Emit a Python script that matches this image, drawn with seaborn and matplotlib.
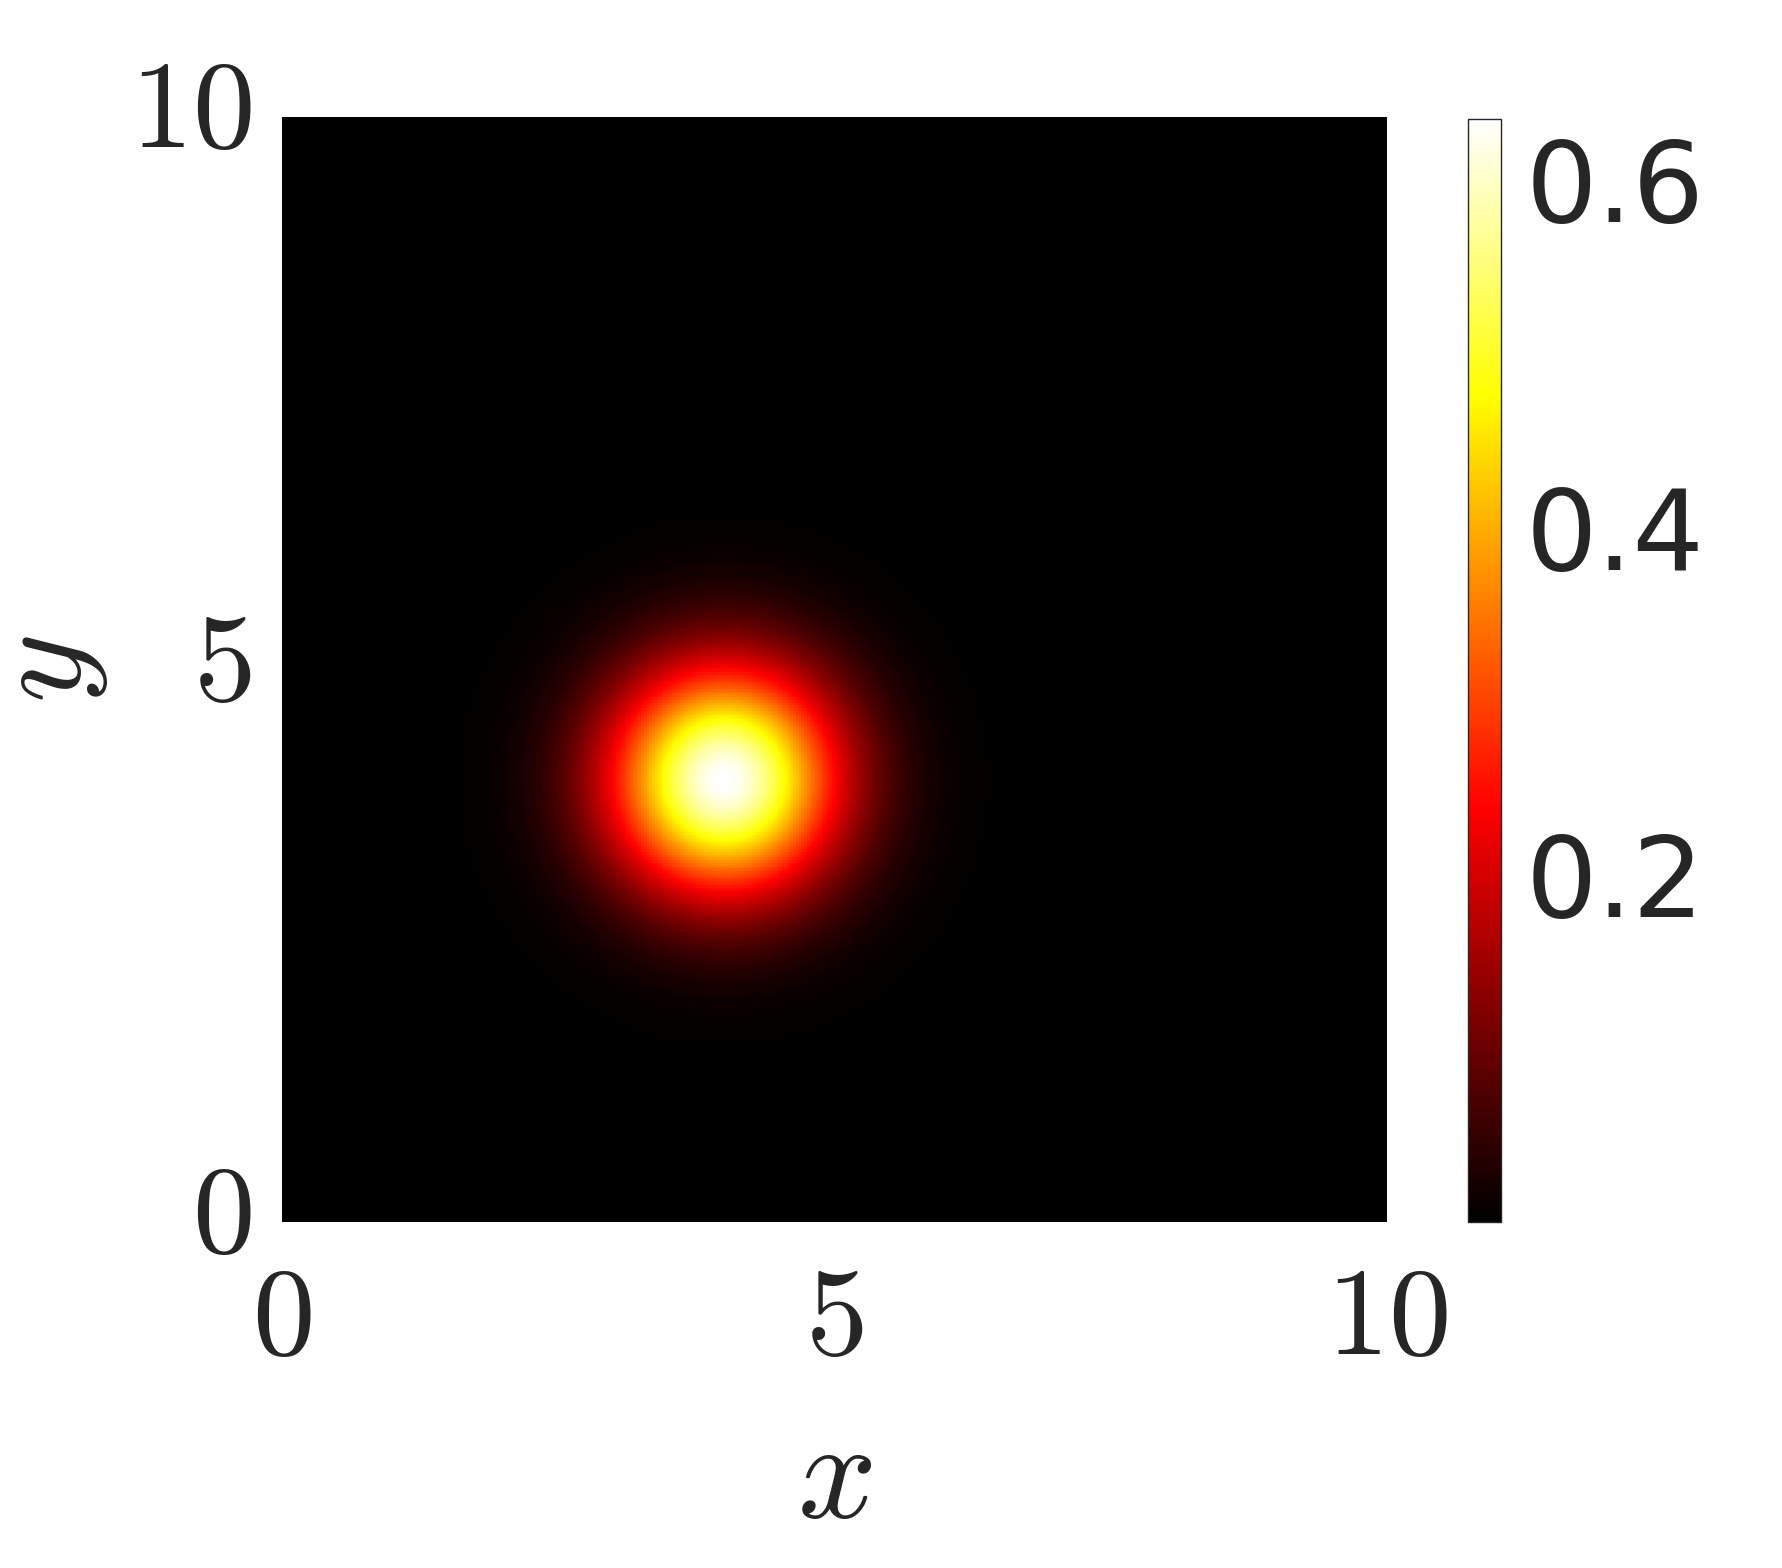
import numpy as np
import pandas as pd
import matplotlib
matplotlib.use('Agg')
import matplotlib.pyplot as plt
import matplotlib.transforms as mtransforms
from matplotlib.colors import LinearSegmentedColormap
import seaborn as sns

# ── Data ────────────────────────────────────────────────
x_range = [0.0, 10.0]          # domain in x
y_range = [0.0, 10.0]          # domain in y
n_cells = 400                  # grid resolution
blob_center = [4.0, 4.0]       # (x0, y0) of the bright spot
blob_peak = 0.635              # maximum value (top of colorbar)
blob_width = 0.72              # gaussian sigma
axis_ticks = [0, 5, 10]
axis_ticklabels = ['$0$', '$5$', '$10$']
cbar_ticks = [0.2, 0.4, 0.6]
cbar_ticklabels = ['0.2', '0.4', '0.6']

# ── Build field ─────────────────────────────────────────
step = (x_range[1] - x_range[0]) / n_cells
xc = x_range[0] + (np.arange(n_cells) + 0.5) * step
yc = y_range[0] + (np.arange(n_cells) + 0.5) * step
X, Y = np.meshgrid(xc, yc)
r2 = (X - blob_center[0]) ** 2 + (Y - blob_center[1]) ** 2
Z = blob_peak * np.exp(-r2 / (2 * blob_width ** 2))
df = pd.DataFrame(Z, index=np.round(yc, 4), columns=np.round(xc, 4))

# matlab-style hot: starts at pure black
hot = LinearSegmentedColormap.from_list(
    'hot_black', [(0.0, 'black'), (0.375, 'red'), (0.75, 'yellow'), (1.0, 'white')], N=256)

# ── Plot ────────────────────────────────────────────────
sns.set_style('white')
plt.rcParams['font.family'] = ['DejaVu Sans']
plt.rcParams['mathtext.fontset'] = 'cm'
txt = '#262626'

fig = plt.figure(figsize=(17.83, 15.68), dpi=100)
ax = fig.add_axes([0.1582, 0.2207, 0.6197, 0.7047])
cax = fig.add_axes([0.8233, 0.2207, 0.0185, 0.7035])

sns.heatmap(df, ax=ax, cbar_ax=cax, cmap=hot, vmin=0, vmax=blob_peak,
            linewidths=0, xticklabels=False, yticklabels=False, rasterized=True)
ax.invert_yaxis()

pos = [(t - x_range[0]) / step for t in axis_ticks]
ax.tick_params(axis='both', length=0)
ax.tick_params(axis='x', pad=27)
ax.tick_params(axis='y', pad=22)
ax.set_xticks(pos)
ax.set_xticklabels(axis_ticklabels, fontsize=90, color=txt, rotation=0)
ax.set_yticks(pos)
ax.set_yticklabels(axis_ticklabels, fontsize=90, color=txt, rotation=0,
                   va='center_baseline')
# nudge y tick labels up a little, like the reference
shift = mtransforms.ScaledTranslation(0, 0.17, fig.dpi_scale_trans)
for lab in ax.get_yticklabels():
    lab.set_transform(lab.get_transform() + shift)
ax.set_xlabel('$x$', fontsize=100, color=txt, labelpad=22)
ax.set_ylabel('$y$', fontsize=96, color=txt, labelpad=14)
for s in ax.spines.values():
    s.set_visible(False)

cax.tick_params(axis='y', direction='in', length=8, width=1, color=txt,
                pad=18, right=True, left=False)
cax.set_yticks(cbar_ticks)
cax.set_yticklabels(cbar_ticklabels, fontsize=81, color=txt)
cb = ax.collections[0].colorbar
cb.outline.set_visible(True)
cb.outline.set_edgecolor(txt)
cb.outline.set_linewidth(1)

fig.savefig('out.png', dpi=100)
